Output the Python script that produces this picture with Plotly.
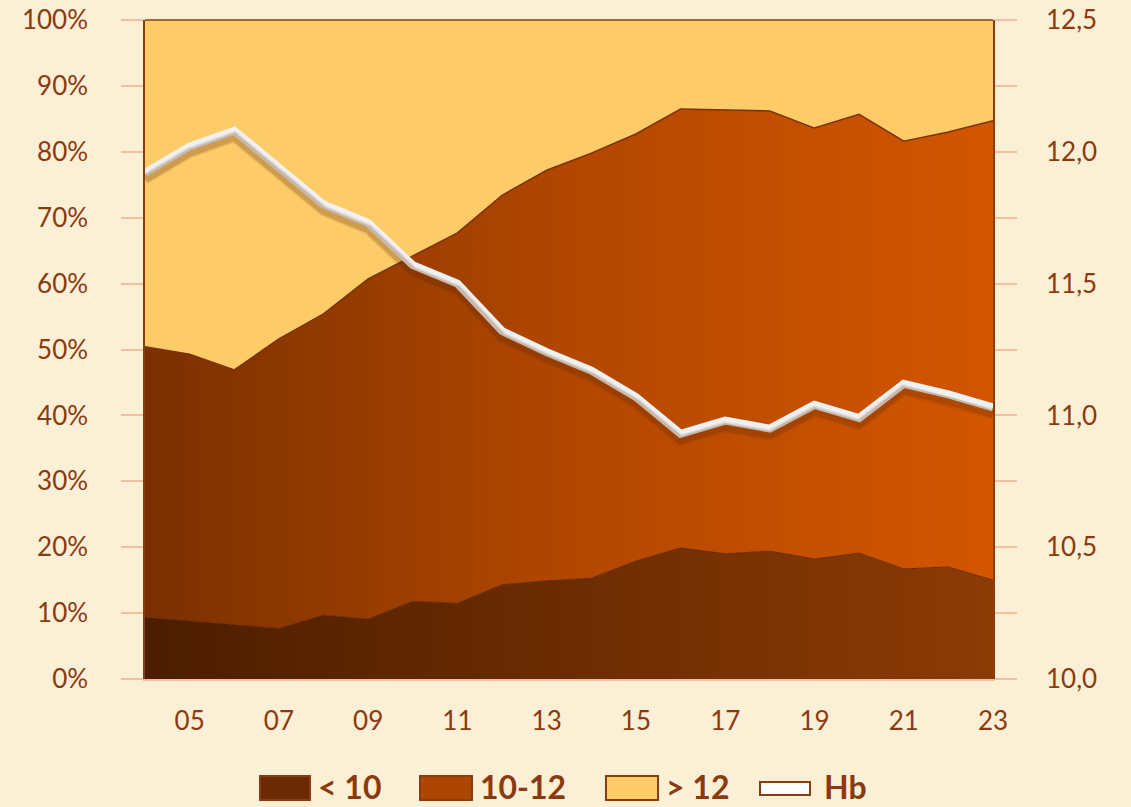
"""Stacked 100% area of Hb classes with mean Hb line on a second axis."""
import plotly.graph_objects as go

years = list(range(2004, 2024))
tick_years = list(range(2005, 2024, 2))
tick_text = [f"{y % 100:02d}" for y in tick_years]
pct_ticks = list(range(0, 101, 10))
pct_text = [f"{v}%" for v in pct_ticks]

# share of patients per Hb class (%)
share_lt10 = [9.4, 8.8, 8.3, 7.7, 9.7, 9.1, 11.8, 11.5, 14.3, 14.9,
              15.3, 17.9, 19.9, 19.0, 19.4, 18.2, 19.1, 16.7, 17.0, 15.0]
share_10_12 = [41.0, 40.5, 38.6, 43.9, 45.7, 51.6, 52.4, 56.2, 59.1, 62.3,
               64.5, 64.8, 66.6, 67.3, 66.8, 65.4, 66.6, 64.9, 66.0, 69.7]
share_gt12 = [49.6, 50.7, 53.1, 48.4, 44.6, 39.3, 35.8, 32.3, 26.6, 22.8,
              20.2, 17.3, 13.5, 13.7, 13.8, 16.4, 14.3, 18.4, 17.0, 15.3]
# mean Hb (g/dl)
hb = [11.92, 12.02, 12.08, 11.94, 11.80, 11.73, 11.57, 11.50, 11.32, 11.24,
      11.17, 11.07, 10.93, 10.98, 10.95, 11.04, 10.99, 11.12, 11.08, 11.03]

legend_names = ["< 10", "10-12", "> 12", "Hb"]

TXT = "#8B3A0F"
PINK = "#F3BFA3"
BROWN = "#8A3D12"
BG = "#FBEFD5"
FONT = "Lato"

W, H = 1131, 807
L, R, T, B = 145, 138, 20, 128
PW, PH = W - L - R, H - T - B


def px_x(p):
    return (p - L) / PW


def px_y(p):
    return (H - B - p) / PH


fig = go.Figure()

fig.add_trace(go.Scatter(
    x=years, y=share_lt10, name=legend_names[0], stackgroup="a",
    mode="lines", line=dict(color="#6A2A05", width=1),
    fillgradient=dict(type="horizontal",
                      colorscale=[[0, "#4C1D00"], [1, "#8C3B04"]]),
))
fig.add_trace(go.Scatter(
    x=years, y=share_10_12, name=legend_names[1], stackgroup="a",
    mode="lines", line=dict(color="#7A3208", width=1.5),
    fillgradient=dict(type="horizontal",
                      colorscale=[[0, "#7A3000"], [0.5, "#B24700"], [1, "#D35600"]]),
))
fig.add_trace(go.Scatter(
    x=years, y=share_gt12, name=legend_names[2], stackgroup="a",
    mode="lines", line=dict(color=BROWN, width=0),
    fillcolor="#FECB69",
))

# soft shadow under the Hb line (same data, slightly shifted axis)
for w, a in [(11, 0.10), (8, 0.20)]:
    fig.add_trace(go.Scatter(
        x=years, y=hb, yaxis="y3", mode="lines", showlegend=False,
        line=dict(color=f"rgba(90,40,0,{a})", width=w), hoverinfo="skip",
    ))
fig.add_trace(go.Scatter(
    x=years, y=hb, name=legend_names[3], yaxis="y2", mode="lines",
    line=dict(color="#F1F1F1", width=8),
))

# legend drawn by hand: boxes + bold labels
shapes = [dict(type="line", xref="paper", yref="paper",
               x0=0, x1=1, y0=1, y1=1, line=dict(color=BROWN, width=1.5))]
annotations = []
legend_items = [
    (260, 310, 776, 800, "#6B2A03", 316),
    (420, 472, 776, 800, "#AE4500", 478),
    (606, 658, 776, 800, "#FECB69", 664),
    (760, 810, 782, 795, "#FFFFFF", 822),
]
for (x0, x1, y0, y1, col, tx), name in zip(legend_items, legend_names):
    shapes.append(dict(type="rect", xref="paper", yref="paper",
                       x0=px_x(x0), x1=px_x(x1), y0=px_y(y1), y1=px_y(y0),
                       fillcolor=col, line=dict(color="#8A3D12", width=2)))
    annotations.append(dict(xref="paper", yref="paper", x=px_x(tx), y=px_y(786),
                            xanchor="left", yanchor="middle", showarrow=False,
                            text=f"<b>{name}</b>",
                            font=dict(size=32, color=TXT, family=FONT)))

fig.update_layout(
    width=W, height=H,
    margin=dict(l=L, r=R, t=T, b=B, autoexpand=False),
    paper_bgcolor=BG, plot_bgcolor="rgba(0,0,0,0)",
    separators=",.",
    font=dict(family=FONT, color=TXT, size=26),
    showlegend=False,
    xaxis=dict(
        range=[2004, 2023], tickvals=tick_years, ticktext=tick_text,
        showgrid=False, zeroline=False, ticks="", automargin=False,
        showline=True, linecolor=PINK, linewidth=1.5,
        ticklabelstandoff=18, tickfont=dict(size=26, color=TXT),
    ),
    yaxis=dict(
        range=[0, 100], tickvals=pct_ticks, ticktext=pct_text,
        showgrid=False, zeroline=False, automargin=False,
        ticks="outside", ticklen=22, tickwidth=1.5, tickcolor=PINK,
        showline=True, linecolor=BROWN, linewidth=1.5, mirror="ticks",
        ticklabelstandoff=28, tickfont=dict(size=26, color=TXT),
    ),
    yaxis2=dict(
        range=[10, 12.5], overlaying="y", side="right", automargin=False,
        tickvals=[10, 10.5, 11, 11.5, 12, 12.5], tickformat=".1f",
        showgrid=False, zeroline=False, ticks="", showline=False,
        ticklabelstandoff=52, tickfont=dict(size=26, color=TXT),
    ),
    yaxis3=dict(
        range=[10.024, 12.524], overlaying="y", visible=False,
    ),
    shapes=shapes,
    annotations=annotations,
)

# drop the browser's default page margin so the figure sits at (0, 0)
fig.write_html(
    "out.html",
    config={"displayModeBar": False},
    post_script=f"document.body.style.margin='0';"
                f"document.body.style.background='{BG}';",
)
